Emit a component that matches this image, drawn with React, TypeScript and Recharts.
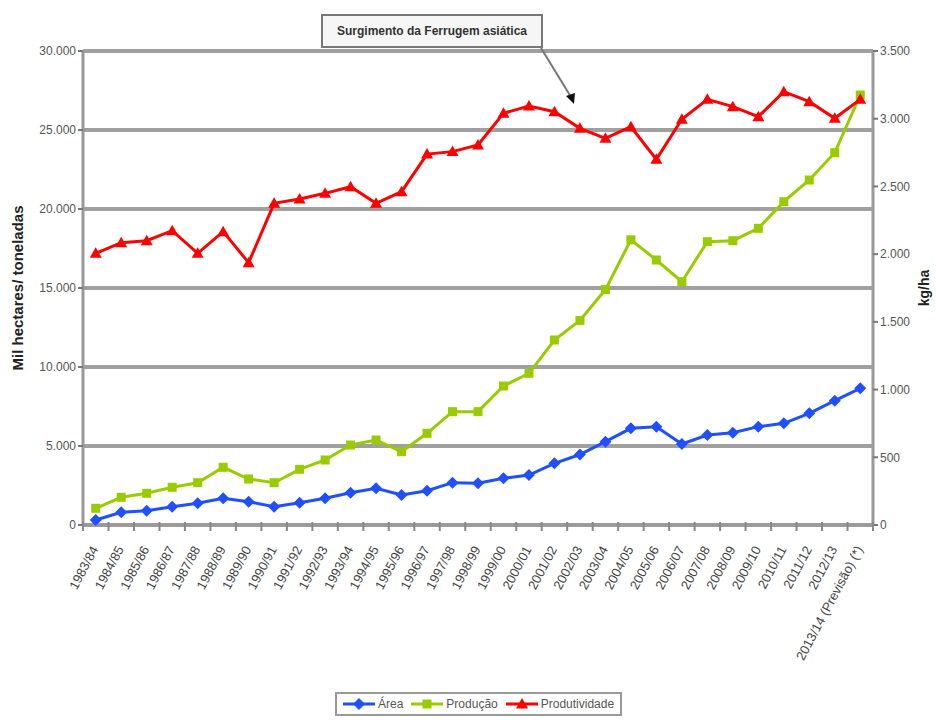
import { ComposedChart, Line, XAxis, YAxis, CartesianGrid, Legend } from 'recharts';

const safras = [
  '1983/84', '1984/85', '1985/86', '1986/87', '1987/88', '1988/89', '1989/90', '1990/91',
  '1991/92', '1992/93', '1993/94', '1994/95', '1995/96', '1996/97', '1997/98', '1998/99',
  '1999/00', '2000/01', '2001/02', '2002/03', '2003/04', '2004/05', '2005/06', '2006/07',
  '2007/08', '2008/09', '2009/10', '2010/11', '2011/12', '2012/13', '2013/14 (Previsão) (*)',
];

// mil hectares
const area = [
  316, 804, 905, 1158, 1373, 1690, 1475, 1158, 1411, 1690, 2046, 2320, 1899, 2173, 2679, 2637,
  2954, 3165, 3903, 4460, 5274, 6118, 6224, 5127, 5696, 5844, 6224, 6435, 7068, 7869, 8650,
];

// mil toneladas
const producao = [
  1057, 1753, 2006, 2386, 2677, 3652, 2911, 2677, 3525, 4114, 5063, 5380, 4641, 5802, 7173, 7173,
  8797, 9599, 11709, 12950, 14900, 18050, 16772, 15399, 17930, 17994, 18778, 20462, 21835, 23565, 27215,
];

// kg/ha
const produtividade = [
  2006, 2085, 2099, 2173, 2006, 2166, 1937, 2375, 2407, 2449, 2498, 2375, 2461, 2739, 2757, 2806,
  3040, 3094, 3052, 2929, 2855, 2941, 2700, 2996, 3143, 3089, 3015, 3200, 3126, 3003, 3143,
];

const leftTicks = [0, 5000, 10000, 15000, 20000, 25000, 30000];
const rightTicks = [0, 500, 1000, 1500, 2000, 2500, 3000, 3500];

const data = safras.map((safra, i) => ({
  safra,
  area: area[i],
  producao: producao[i],
  produtividade: produtividade[i],
}));

const W = 936;
const H = 722;
const PLOT_LEFT = 83;
const PLOT_RIGHT = 873;
const BAND = (PLOT_RIGHT - PLOT_LEFT) / safras.length;
const FONT = '"Liberation Sans", Arial, sans-serif';

const BLUE = '#1f4fff';
const GREEN = '#99cc00';
const RED = '#ff0000';

const fmt = (v: number) => String(v).replace(/\B(?=(\d{3})+(?!\d))/g, '.');

function Marker({ cx, cy, color, shape }: { cx: number; cy: number; color: string; shape: string }) {
  if (cx == null || cy == null) return null;
  if (shape === 'square') {
    return <rect x={cx - 4.5} y={cy - 4.5} width={9} height={9} fill={color} />;
  }
  if (shape === 'triangle') {
    return <polygon points={`${cx},${cy - 6} ${cx + 6},${cy + 4.5} ${cx - 6},${cy + 4.5}`} fill={color} />;
  }
  return <polygon points={`${cx},${cy - 6} ${cx + 6},${cy} ${cx},${cy + 6} ${cx - 6},${cy}`} fill={color} />;
}

function SafraTick(props: any) {
  const { x, y, payload, index } = props;
  const half = BAND / 2;
  return (
    <g>
      <line x1={x - half} x2={x - half} y1={y - 3} y2={y + 6} stroke="#888" strokeWidth={2} />
      {index === safras.length - 1 && (
        <line x1={x + half} x2={x + half} y1={y - 3} y2={y + 6} stroke="#888" strokeWidth={2} />
      )}
      <text
        x={x + 3}
        y={y + 24}
        transform={`rotate(-62 ${x + 3} ${y + 24})`}
        textAnchor="end"
        fontSize={13}
        fontFamily={FONT}
        fill="#444"
      >
        {payload.value}
      </text>
    </g>
  );
}

const legendItems = [
  { label: 'Área', color: BLUE, shape: 'diamond' },
  { label: 'Produção', color: GREEN, shape: 'square' },
  { label: 'Produtividade', color: RED, shape: 'triangle' },
];

function LegendBox() {
  return (
    <div
      style={{
        display: 'flex',
        alignItems: 'center',
        gap: 8,
        border: '2px solid #999',
        background: '#fff',
        padding: '3px 6px',
        fontFamily: FONT,
        fontSize: 12,
        color: '#555',
      }}
    >
      {legendItems.map((item) => (
        <div key={item.label} style={{ display: 'flex', alignItems: 'center', gap: 3 }}>
          <svg width={32} height={14}>
            <line x1={0} x2={32} y1={7} y2={7} stroke={item.color} strokeWidth={3} />
            <Marker cx={16} cy={7} color={item.color} shape={item.shape} />
          </svg>
          <span>{item.label}</span>
        </div>
      ))}
    </div>
  );
}

export default function App() {
  return (
    <div style={{ position: 'absolute', left: 0, top: 0, width: W, height: H, background: '#fff' }}>
      <ComposedChart
        width={W}
        height={H}
        data={data}
        margin={{ top: 51, right: 0, bottom: 0, left: 0 }}
      >
        <CartesianGrid yAxisId="left" vertical={false} stroke="#a0a0a0" strokeWidth={4} />
        <XAxis
          dataKey="safra"
          height={197}
          interval={0}
          padding={{ left: BAND / 2, right: BAND / 2 }}
          tickLine={false}
          tickSize={0}
          tickMargin={0}
          axisLine={{ stroke: '#999', strokeWidth: 3 }}
          tick={<SafraTick />}
        />
        <YAxis
          yAxisId="left"
          width={PLOT_LEFT}
          domain={[0, 30000]}
          ticks={leftTicks}
          tickFormatter={fmt}
          axisLine={{ stroke: '#999', strokeWidth: 3 }}
          tickLine={{ stroke: '#777', strokeWidth: 2 }}
          tickSize={5}
          tick={{ fontSize: 12, fill: '#555', fontFamily: FONT }}
          label={{
            value: 'Mil hectares/ toneladas',
            angle: -90,
            position: 'center',
            dx: -24,
            style: { fontSize: 15, fontWeight: 'bold', fill: '#222', fontFamily: FONT },
          }}
        />
        <YAxis
          yAxisId="right"
          orientation="right"
          width={W - PLOT_RIGHT}
          domain={[0, 3500]}
          ticks={rightTicks}
          tickFormatter={fmt}
          axisLine={{ stroke: '#999', strokeWidth: 3 }}
          tickLine={{ stroke: '#777', strokeWidth: 2 }}
          tickSize={5}
          tick={{ fontSize: 12, fill: '#555', fontFamily: FONT }}
          label={{
            value: 'kg/ha',
            angle: -90,
            position: 'center',
            dx: 20,
            style: { fontSize: 14, fontWeight: 'bold', fill: '#222', fontFamily: FONT },
          }}
        />
        <Legend
          layout="horizontal"
          verticalAlign="middle"
          align="center"
          wrapperStyle={{ left: 335, top: 692, width: 'auto', height: 'auto' }}
          content={() => <LegendBox />}
        />
        <Line
          yAxisId="left"
          dataKey="area"
          name="Área"
          stroke={BLUE}
          strokeWidth={3}
          isAnimationActive={false}
          dot={(p: any) => <Marker key={`a-${p.index}`} cx={p.cx} cy={p.cy} color={BLUE} shape="diamond" />}
        />
        <Line
          yAxisId="left"
          dataKey="producao"
          name="Produção"
          stroke={GREEN}
          strokeWidth={3}
          isAnimationActive={false}
          dot={(p: any) => <Marker key={`p-${p.index}`} cx={p.cx} cy={p.cy} color={GREEN} shape="square" />}
        />
        <Line
          yAxisId="right"
          dataKey="produtividade"
          name="Produtividade"
          stroke={RED}
          strokeWidth={3}
          isAnimationActive={false}
          dot={(p: any) => <Marker key={`r-${p.index}`} cx={p.cx} cy={p.cy} color={RED} shape="triangle" />}
        />
      </ComposedChart>

      <div
        style={{
          position: 'absolute',
          left: 321,
          top: 14,
          width: 218,
          height: 30,
          border: '2px solid #777',
          background: '#f6f6f6',
          fontFamily: FONT,
          fontSize: 12,
          fontWeight: 'bold',
          color: '#333',
          display: 'flex',
          alignItems: 'center',
          justifyContent: 'center',
        }}
      >
        Surgimento da Ferrugem asiática
      </div>
      <svg width={W} height={H} style={{ position: 'absolute', left: 0, top: 0, pointerEvents: 'none' }}>
        <line x1={541} y1={48} x2={571} y2={97} stroke="#777" strokeWidth={2} />
        <polygon points="574,104 566,96 575,93" fill="#111" />
      </svg>
    </div>
  );
}
